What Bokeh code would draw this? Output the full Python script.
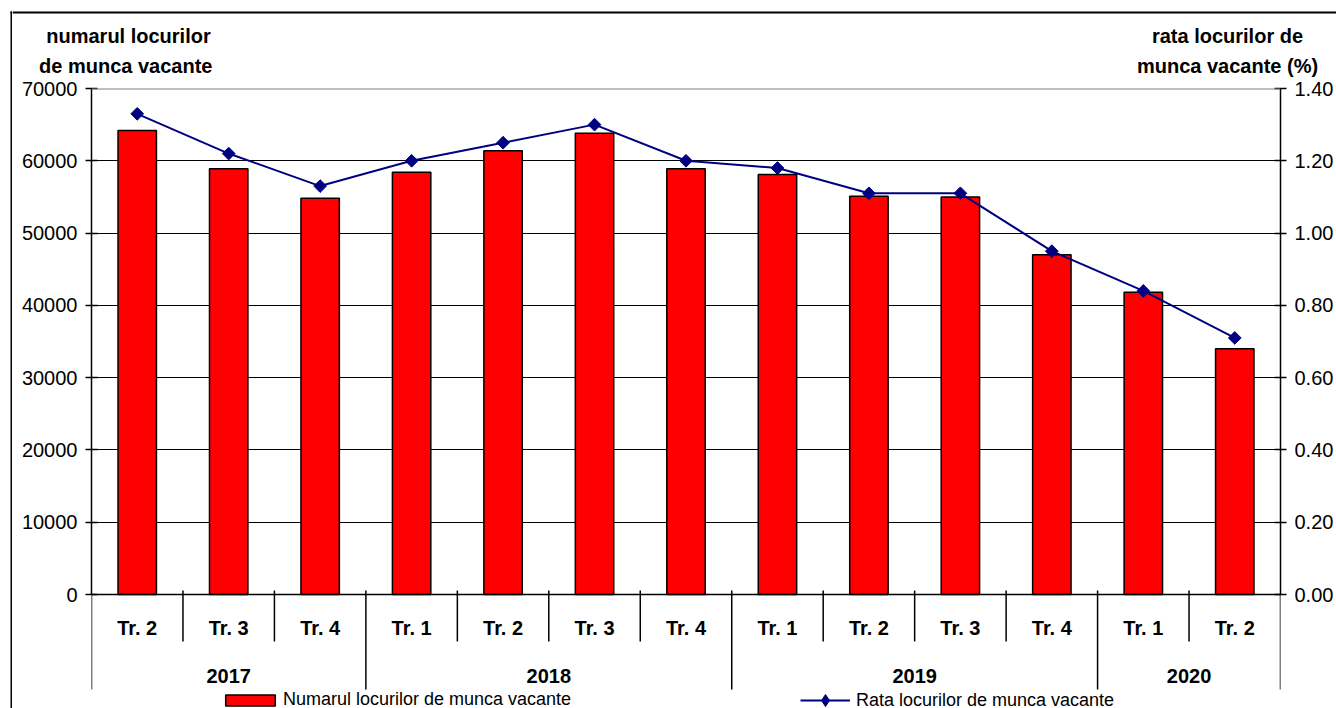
from bokeh.plotting import figure
from bokeh.layouts import row, column
from bokeh.models import (Range1d, LinearAxis, FixedTicker, NumeralTickFormatter,
                          Span, Legend, LegendItem)
from bokeh.core.properties import value
from bokeh.embed import file_html
from bokeh.resources import INLINE
import math

quarters = ["Tr. 2", "Tr. 3", "Tr. 4", "Tr. 1", "Tr. 2", "Tr. 3", "Tr. 4",
            "Tr. 1", "Tr. 2", "Tr. 3", "Tr. 4", "Tr. 1", "Tr. 2"]
years = ["2017", "2018", "2019", "2020"]
year_counts = [3, 4, 4, 2]
vacancies = [64200, 58900, 54800, 58400, 61400, 63800, 58900,
             58100, 55100, 55000, 47000, 41800, 34000]
rates = [1.33, 1.22, 1.13, 1.20, 1.25, 1.30, 1.20,
         1.18, 1.11, 1.11, 0.95, 0.84, 0.71]
left_ticks = [0, 10000, 20000, 30000, 40000, 50000, 60000, 70000]
right_ticks = [0.0, 0.2, 0.4, 0.6, 0.8, 1.0, 1.2, 1.4]
left_title = ["numarul locurilor", "de munca  vacante"]
right_title = ["rata locurilor de", "munca vacante (%)"]
legend_labels = ["Numarul locurilor de munca vacante", "Rata locurilor de munca vacante"]

FONT = "Liberation Sans"
W, H = 1336, 708
STRIP_W = 12
TOP_H = 78
PX = 70000 / 506.0          # data units per pixel on the left scale
YMIN = -114 * PX
n = len(quarters)
xs = [i + 0.5 for i in range(n)]


def bare(width, height, xr, yr):
    f = figure(width=width, height=height, x_range=xr, y_range=yr,
               x_axis_location=None, y_axis_location=None,
               output_backend="svg", toolbar_location=None, min_border=0)
    f.outline_line_color = None
    f.grid.visible = False
    f.background_fill_color = "white"
    f.border_fill_color = "white"
    f.frame_align = False
    return f


# ---- left strip: outer border of the chart area
strip = bare(STRIP_W, H, Range1d(0, STRIP_W), Range1d(H, 0))
strip.segment(x0=[11], y0=[11], x1=[11], y1=[H], line_color="black", line_width=2)
strip.segment(x0=[10], y0=[12], x1=[STRIP_W], y1=[12], line_color="black", line_width=2)

# ---- top band: axis titles and top border
top = bare(W - STRIP_W, TOP_H, Range1d(STRIP_W, W), Range1d(TOP_H, 0))
top.segment(x0=[STRIP_W], y0=[12], x1=[W], y1=[12], line_color="black", line_width=2)
top.text(x=[128, 128], y=[35, 65], text=left_title, text_font=value(FONT),
         text_font_style="bold", text_font_size="20px", text_align="center",
         text_baseline="middle", text_color="black")
top.text(x=[1227, 1227], y=[35, 65], text=right_title, text_font=value(FONT),
         text_font_style="bold", text_font_size="20px", text_align="center",
         text_baseline="middle", text_color="black")

# ---- main chart
p = figure(width=W - STRIP_W, height=H - TOP_H, x_range=Range1d(0, n),
           y_range=Range1d(YMIN, 70000), x_axis_location=None,
           output_backend="svg", toolbar_location=None,
           min_border_left=91 - STRIP_W, min_border_right=W - 1280,
           min_border_top=88 - TOP_H, min_border_bottom=0)
p.frame_align = False
p.outline_line_color = None
p.background_fill_color = "white"
p.border_fill_color = "white"
p.xgrid.visible = False

ya = p.yaxis[0]
ya.ticker = FixedTicker(ticks=left_ticks)
ya.bounds = (0, 70000)
ya.axis_line_color = "black"
ya.axis_line_width = 1.5
ya.major_tick_in = 6
ya.major_tick_out = 6
ya.major_tick_line_width = 1.5
ya.minor_tick_line_color = None
ya.major_label_text_font = FONT
ya.major_label_text_font_size = "20px"
ya.major_label_text_color = "black"
ya.major_label_standoff = 8

p.ygrid.ticker = FixedTicker(ticks=left_ticks[1:-1])
p.ygrid.grid_line_color = "black"
p.ygrid.grid_line_width = 1

p.extra_y_ranges = {"rate": Range1d(YMIN / 50000.0, 1.4)}
ra = LinearAxis(y_range_name="rate", ticker=FixedTicker(ticks=right_ticks),
                formatter=NumeralTickFormatter(format="0.00"))
ra.bounds = (0, 1.4)
ra.axis_line_color = "black"
ra.axis_line_width = 1.5
ra.major_tick_in = 6
ra.major_tick_out = 6
ra.major_tick_line_width = 1.5
ra.minor_tick_line_color = None
ra.major_label_text_font = FONT
ra.major_label_text_font_size = "20px"
ra.major_label_text_color = "black"
ra.major_label_standoff = 8
p.add_layout(ra, "right")

p.add_layout(Span(location=70000, dimension="width", line_color="#808080", line_width=2))
p.add_layout(Span(location=0, dimension="width", line_color="black", line_width=1.5))

bars = p.vbar(x=xs, top=vacancies, width=0.42, bottom=0, fill_color="#FF0000",
              line_color="black", line_width=1.5)

ln = p.line(xs, rates, y_range_name="rate", line_color="#000080", line_width=2)
sc = p.scatter(xs, rates, y_range_name="rate", marker="square", angle=math.pi / 4,
               size=9, fill_color="#000080", line_color="#000080")
# marker shown in the legend only (no visible data point)
leg_marker = p.scatter(x=[float("nan")], y=[float("nan")], y_range_name="rate",
                       marker="diamond", size=12, fill_color="#000080", line_color="#000080")

# two-level category axis
p.text(x=xs, y=[-33 * PX] * n, text=quarters, text_font=value(FONT), text_font_style="bold",
       text_font_size="20px", text_align="center", text_baseline="middle", text_color="black")
starts = [0]
for c in year_counts:
    starts.append(starts[-1] + c)
ycent = [(starts[i] + starts[i + 1]) / 2.0 for i in range(len(years))]
p.text(x=ycent, y=[-81 * PX] * len(years), text=years, text_font=value(FONT),
       text_font_style="bold", text_font_size="20px", text_align="center",
       text_baseline="middle", text_color="black")

inner = [i for i in range(1, n) if i not in starts]
p.segment(x0=inner, y0=[4 * PX] * len(inner), x1=inner, y1=[-47 * PX] * len(inner),
          line_color="black", line_width=1.5)
grp_y0 = [0 if s in (0, n) else 4 * PX for s in starts]
p.segment(x0=starts, y0=grp_y0, x1=starts, y1=[-95 * PX] * len(starts),
          line_color="black", line_width=1.5)

common = dict(orientation="horizontal", padding=0, margin=0, spacing=0,
              border_line_color=None, background_fill_alpha=0,
              label_text_font=FONT, label_text_font_size="18px", label_text_color="black",
              label_height=16)
leg1 = Legend(items=[LegendItem(label=legend_labels[0], renderers=[bars])],
              location=(128, -2), glyph_width=62, glyph_height=14, label_standoff=2, **common)
leg2 = Legend(items=[LegendItem(label=legend_labels[1], renderers=[ln, leg_marker])],
              location=(709, -7), glyph_width=50, glyph_height=30, label_standoff=6, **common)
p.add_layout(leg1)
p.add_layout(leg2)

layout = row(strip, column(top, p, spacing=0), spacing=0)
open("out.html", "w").write(file_html(layout, INLINE))
